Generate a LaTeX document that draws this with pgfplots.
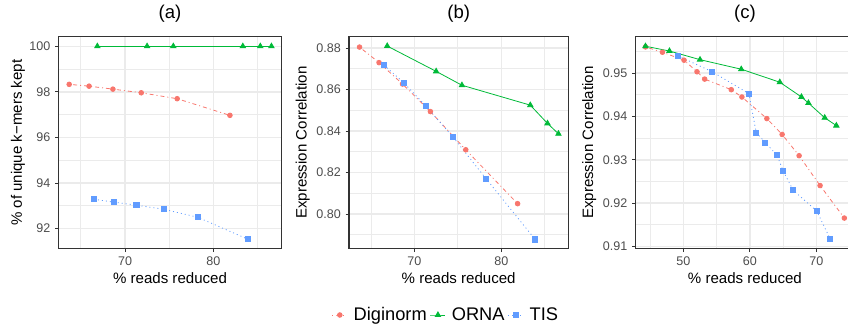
\documentclass[border=0pt]{standalone}
\usepackage{fontspec}
\setmainfont{Liberation Sans}
\usepackage{pgfplots}
\pgfplotsset{compat=1.18}
\definecolor{cD}{HTML}{F8766D}
\definecolor{cO}{HTML}{00BA38}
\definecolor{cT}{HTML}{619CFF}
\definecolor{gridc}{HTML}{EBEBEB}
\definecolor{bord}{HTML}{333333}
\definecolor{tickl}{HTML}{4D4D4D}
\pgfplotsset{
  panel/.style={
    scale only axis, height=159pt, anchor=north west,
    axis line style={bord, line width=0.8pt},
    tick pos=left, tick align=outside,
    major tick length=2.6pt, minor tick length=0pt,
    every tick/.style={bord, line width=0.75pt},
    grid=both,
    major grid style={gridc, line width=1.1pt},
    minor grid style={gridc, line width=0.55pt},
    tick label style={font=\fontsize{9.4}{11}\selectfont, text=tickl},
    /pgf/number format/assume math mode=true,
    label style={font=\fontsize{11.3}{13}\selectfont},
    title style={font=\fontsize{13.9}{16}\selectfont, at={(axis description cs:0.5,1.069)}, anchor=center},
    xlabel style={at={(axis description cs:0.5,-0.138)}, anchor=center},
    xlabel={\% reads reduced},
  },
  dig/.style={color=cD, mark=*, mark size=1.75pt, line width=0.6pt,
    dash pattern=on 0.75pt off 2.25pt on 3pt off 2.25pt, mark options={solid}},
  orn/.style={color=cO, mark=triangle*, mark size=2.3pt, line width=0.6pt, solid},
  tis/.style={color=cT, mark=square*, mark size=1.9pt, line width=0.6pt,
    dash pattern=on 0.75pt off 2.25pt, mark options={solid}},
}
\begin{document}
\begin{tikzpicture}
\useasboundingbox (0,0) rectangle (636pt,-243.75pt);
\clip (0,0) rectangle (636pt,-243.75pt);

% (a)
\begin{axis}[panel, at={(43.875pt,-27.525pt)}, width=167.25pt,
  title={(a)},
  xmin=62.47, xmax=87.72, ymin=91.12, ymax=100.42,
  xtick={70,80}, minor xtick={65,75,85},
  ytick={92,94,96,98,100}, minor ytick={93,95,97,99},
  ylabel={\% of unique k\textminus mers kept},
  ylabel style={at={(axis description cs:-0.1816,0.5)}, anchor=center},
]
\addplot[dig] coordinates {(63.68,98.33)(65.93,98.25)(68.63,98.12)(71.84,97.96)(75.91,97.70)(81.88,96.97)};
\addplot[orn] coordinates {(66.87,100)(72.50,100)(75.47,100)(83.34,100)(85.32,100)(86.58,100)};
\addplot[tis] coordinates {(66.49,93.29)(68.75,93.16)(71.29,93.03)(74.39,92.85)(78.24,92.50)(83.89,91.54)};
\end{axis}

% (b)
\begin{axis}[panel, at={(261.75pt,-27.525pt)}, width=164.5pt,
  title={(b)},
  xmin=62.47, xmax=87.72, ymin=0.7833, ymax=0.8855,
  xtick={70,80}, minor xtick={65,75,85},
  ytick={0.80,0.82,0.84,0.86,0.88}, minor ytick={0.79,0.81,0.83,0.85,0.87},
  yticklabel style={/pgf/number format/.cd, fixed, fixed zerofill, precision=2},
  ylabel={Expression Correlation},
  ylabel style={at={(axis description cs:-0.211,0.5)}, anchor=center},
  legend columns=3,
  legend image code/.code={\draw[mark repeat=2, mark phase=2, #1] plot coordinates {(0pt,0pt)(5.6pt,0pt)(11.2pt,0pt)};},
  legend style={at={(axis description cs:0.4377,-0.3127)}, anchor=center, draw=none, fill=none,
    font=\fontsize{13.7}{16}\selectfont, inner sep=0pt, nodes={inner sep=0pt},
    /tikz/every odd column/.append style={column sep=4.5pt},
    /tikz/every even column/.append style={column sep=2.5pt}},
]
\addplot[dig] coordinates {(63.68,0.8805)(65.93,0.8730)(68.63,0.8627)(71.84,0.8494)(75.91,0.8310)(81.88,0.8050)};
\addlegendentry{Diginorm}
\addplot[orn] coordinates {(66.87,0.8810)(72.50,0.8688)(75.47,0.8621)(83.34,0.8525)(85.32,0.8437)(86.58,0.8387)};
\addlegendentry{ORNA}
\addplot[tis] coordinates {(66.49,0.8718)(68.75,0.8634)(71.29,0.8522)(74.39,0.8374)(78.24,0.8171)(83.89,0.7878)};
\addlegendentry{TIS}
\end{axis}

% (c)
\begin{axis}[panel, at={(476.625pt,-27.525pt)}, width=164.1pt,
  title={(c)},
  xmin=42.8, xmax=75.7, ymin=0.9095, ymax=0.9584,
  xtick={50,60,70}, minor xtick={45,55,65,75},
  ytick={0.91,0.92,0.93,0.94,0.95}, minor ytick={0.915,0.925,0.935,0.945,0.955},
  yticklabel style={/pgf/number format/.cd, fixed, fixed zerofill, precision=2},
  ylabel={Expression Correlation},
  ylabel style={at={(axis description cs:-0.211,0.5)}, anchor=center},
]
\addplot[dig] coordinates {(44.30,0.95604)(46.85,0.95482)(50.10,0.95298)(52.05,0.95031)(53.20,0.94862)(57.20,0.94618)(58.80,0.94449)(62.55,0.93952)(64.85,0.93585)(67.40,0.93095)(70.55,0.92407)(74.20,0.91657)};
\addplot[orn] coordinates {(44.30,0.9562)(47.90,0.9551)(52.50,0.9531)(58.70,0.9509)(64.50,0.9479)(67.75,0.9445)(68.80,0.9431)(71.25,0.9397)(73.00,0.9379)};
\addplot[tis] coordinates {(49.20,0.95398)(54.35,0.9503)(59.85,0.94526)(60.95,0.93631)(62.30,0.93401)(64.10,0.93103)(65.00,0.92743)(66.50,0.9230)(70.05,0.91818)(72.05,0.91183)};
\end{axis}
\end{tikzpicture}
\end{document}
